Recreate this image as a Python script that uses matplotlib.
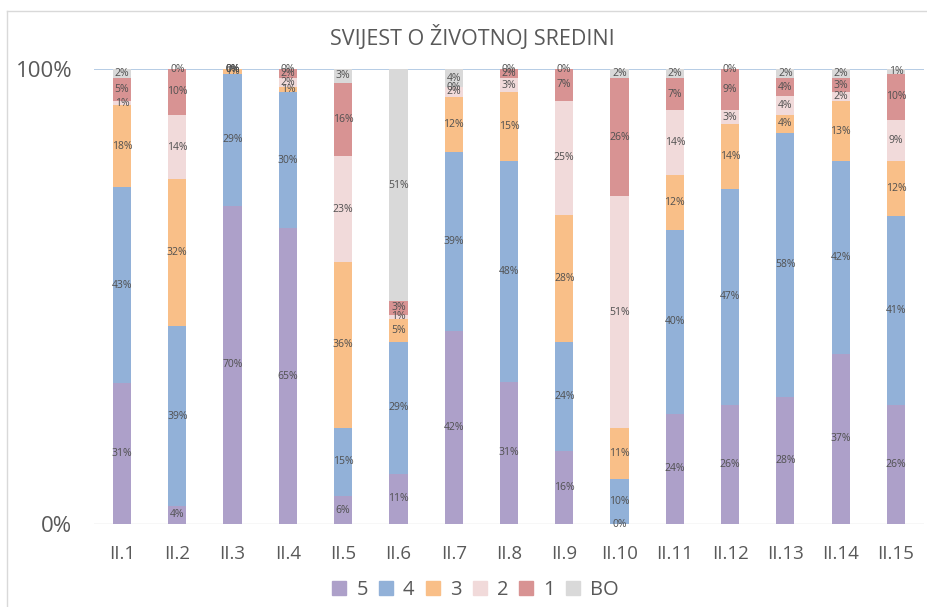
import matplotlib
matplotlib.use("Agg")
import matplotlib.pyplot as plt
import numpy as np
from matplotlib.patches import Rectangle
from matplotlib.lines import Line2D

plt.rcParams['font.family'] = ['Open Sans', 'DejaVu Sans']

categories = ["II.1", "II.2", "II.3", "II.4", "II.5", "II.6", "II.7", "II.8",
              "II.9", "II.10", "II.11", "II.12", "II.13", "II.14", "II.15"]
series_names = ["5", "4", "3", "2", "1", "BO"]
s5 = [31, 4, 70, 65, 6, 11, 42, 31, 16, 0, 24, 26, 28, 37, 26]
s4 = [43, 39, 29, 30, 15, 29, 39, 48, 24, 10, 40, 47, 58, 42, 41]
s3 = [18, 32, 1, 1, 36, 5, 12, 15, 28, 11, 12, 14, 4, 13, 12]
s2 = [1, 14, 0, 2, 23, 1, 2, 3, 25, 51, 14, 3, 4, 2, 9]
s1 = [5, 10, 0, 2, 16, 3, 0, 2, 7, 26, 7, 9, 4, 3, 10]
sBO = [2, 0, 0, 0, 3, 51, 4, 0, 0, 2, 2, 0, 2, 2, 1]
colors = ["#ADA0C9", "#92B1D8", "#F9BF88", "#F1DADA", "#D89393", "#D9D9D9"]

data = np.array([s5, s4, s3, s2, s1, sBO], dtype=float)
totals = data.sum(axis=0)
norm = data / totals

fig = plt.figure(figsize=(9.27, 6.07), dpi=100)
ax = fig.add_axes([0.1018, 0.1367, 0.8945, 0.7496])

x = np.arange(len(categories))
bottom = np.zeros(len(categories))
for i, name in enumerate(series_names):
    ax.bar(x, norm[i], width=0.33, bottom=bottom, color=colors[i], label=name, zorder=2)
    for j in range(len(categories)):
        ax.text(x[j], bottom[j] + norm[i][j] / 2, f"{int(data[i][j])}%",
                ha='center', va='center', fontsize=7.5, color='#505050', zorder=3)
    bottom += norm[i]

ax.set_xlim(-0.5, len(categories) - 0.5)
ax.set_ylim(0, 1)
ax.set_yticks([0, 1])
ax.set_yticklabels(["0%", "100%"])
ax.set_xticks(x)
ax.set_xticklabels(categories)
ax.tick_params(axis='y', length=0, pad=16, labelsize=16, labelcolor='#595959')
ax.tick_params(axis='x', length=0, pad=15, labelsize=13.5, labelcolor='#595959')
for s in ax.spines.values():
    s.set_visible(False)
ax.axhline(1, color='#A9C4E0', lw=1.2, zorder=1)
ax.axhline(0, color='#D9D9D9', lw=1, zorder=1)

fig.text(0.509, 0.938, "SVIJEST O ŽIVOTNOJ SREDINI", ha='center', va='center',
         fontsize=15.5, color='#595959')

handles = [Rectangle((0, 0), 1, 1, color=c) for c in colors]
leg = fig.legend(handles, series_names, loc='center', bbox_to_anchor=(0.513, 0.028),
                 ncol=6, frameon=False, fontsize=14.5, handlelength=0.7, handleheight=0.7,
                 columnspacing=0.55, handletextpad=0.5, labelcolor='#595959')

# outer chart frame
fig.add_artist(Line2D([7 / 927, 7 / 927], [0, 1 - 11 / 607], color='#D9D9D9', lw=1, transform=fig.transFigure))
fig.add_artist(Line2D([7 / 927, 1], [1 - 11 / 607, 1 - 11 / 607], color='#D9D9D9', lw=1, transform=fig.transFigure))

fig.savefig("out.png", dpi=100)
